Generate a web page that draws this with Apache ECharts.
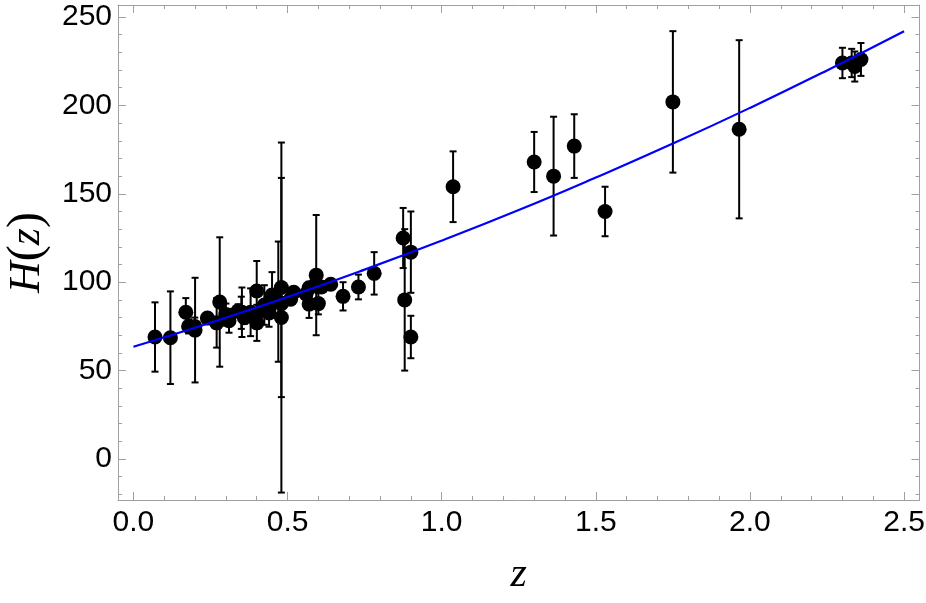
<!DOCTYPE html>
<html>
<head>
<meta charset="utf-8">
<script src="https://cdn.jsdelivr.net/npm/echarts@6/dist/echarts.min.js"></script>
<style>html,body{margin:0;padding:0;background:#fff;}#c{width:926px;height:603px;}</style>
</head>
<body>
<div id="c"></div>
<script>
// Observed H(z) data: redshift, value, 1-sigma error
var zVals = [0.07,0.12,0.17,0.179,0.199,0.2,0.24,0.27,0.28,0.30,0.31,0.34,0.35,0.352,0.36,0.38,0.3802,0.4,0.40,0.4004,0.4247,0.43,0.44,0.44,0.4497,0.47,0.48,0.48,0.48,0.51,0.52,0.56,0.57,0.57,0.59,0.593,0.60,0.61,0.64,0.68,0.73,0.781,0.875,0.88,0.9,0.9,1.037,1.3,1.363,1.43,1.53,1.75,1.965,2.3,2.33,2.34,2.36];
var hVals = [69,68.6,83,75,75,72.9,79.69,77,88.8,81.7,78.17,83.8,82.7,83,79.93,81.5,83,95,82.04,77,87.1,86.45,82.6,84.81,92.8,89,80,97,87.79,90.4,94.35,93.34,87.6,96.8,98.48,104,87.9,97.3,98.82,92,97.3,105,125,90,117,69,154,168,160,177,140,202,186.5,224,224,222,226];
var errVals = [19.6,26.2,8,4,5,29.6,2.99,14,36.6,6.22,6.74,3.66,9.1,14,3.39,1.9,13.5,17,2.03,10.2,11.2,3.97,7.8,1.83,12.9,34,99,62,2.03,1.9,2.64,2.3,7.8,3.4,3.18,34,6.1,2.1,2.98,8,7,12,17,40,23,12,20,17,33.6,18,14,40,50.4,8.6,8,8.5,9.3];

// Best-fit curve, values
var fitZ = [0,0.25,0.5,0.75,1.0,1.25,1.5,1.75,2.0,2.25,2.5];
var fitH = [63.5,77.1,91.6,107.1,123.5,140.8,159.2,178.4,198.6,219.8,241.9];

// Tick values
var xMajor = [0,0.5,1.0,1.5,2.0,2.5];
var xMinor = [0.1,0.2,0.3,0.4,0.6,0.7,0.8,0.9,1.1,1.2,1.3,1.4,1.6,1.7,1.8,1.9,2.1,2.2,2.3,2.4];
var yMajor = [0,50,100,150,200,250];
var yMinor = [-20,-10,10,20,30,40,60,70,80,90,110,120,130,140,160,170,180,190,210,220,230,240];

var pts = zVals.map(function(z,i){return [z,hVals[i]];});
var bars = zVals.map(function(z,i){return [z,hVals[i]-errVals[i],hVals[i]+errVals[i]];});
var fit = fitZ.map(function(z,i){return [z,fitH[i]];});

var X_MIN=-0.05, X_MAX=2.55, Y_MIN=-23.2, Y_MAX=256.8;
var frameColor='#a0a0a0';
var labelFont={fontFamily:'Liberation Sans, Arial, sans-serif',fontSize:30,color:'#000'};

function xAx(pos, vals, len, showLine, showLabel){
  return {type:'value',position:pos,min:X_MIN,max:X_MAX,
    axisLine:{show:showLine,onZero:false,lineStyle:{color:frameColor,width:1}},
    axisTick:{show:true,inside:true,length:len,customValues:vals,lineStyle:{color:frameColor,width:1}},
    axisLabel:showLabel?Object.assign({show:true,margin:8,customValues:vals,formatter:function(v){return v.toFixed(1);}},labelFont):{show:false},
    splitLine:{show:false}};
}
function yAx(pos, vals, len, showLine, showLabel){
  return {type:'value',position:pos,min:Y_MIN,max:Y_MAX,
    axisLine:{show:showLine,onZero:false,lineStyle:{color:frameColor,width:1}},
    axisTick:{show:true,inside:true,length:len,customValues:vals,lineStyle:{color:frameColor,width:1}},
    axisLabel:showLabel?Object.assign({show:true,margin:6,customValues:vals,formatter:function(v){return String(Math.round(v));}},labelFont):{show:false},
    splitLine:{show:false}};
}

var xa0 = xAx('bottom',xMajor,8,true,true);
xa0.name='z'; xa0.nameLocation='middle'; xa0.nameGap=54;
xa0.nameTextStyle={fontFamily:'Liberation Serif, DejaVu Serif, serif',fontStyle:'italic',fontSize:42,color:'#000'};
var ya0 = yAx('left',yMajor,8,true,true);
ya0.name='{i|H}{p|(}{i|z}{p|)}'; ya0.nameLocation='middle'; ya0.nameGap=66; ya0.nameRotate=90;
ya0.nameTextStyle={fontFamily:'Liberation Serif, DejaVu Serif, serif',fontSize:44,color:'#000',
  rich:{i:{fontFamily:'Liberation Serif, DejaVu Serif, serif',fontStyle:'italic',fontSize:44,color:'#000'},
        p:{fontFamily:'Liberation Serif, DejaVu Serif, serif',fontSize:48,color:'#000'}}};

var chart = echarts.init(document.getElementById('c'),null,{renderer:'canvas'});
chart.setOption({
  animation:false,
  backgroundColor:'#fff',
  grid:{left:118,right:6.5,top:5,bottom:103,containLabel:false,outerBoundsMode:'none'},
  xAxis:[xa0, xAx('bottom',xMinor,4,false,false), xAx('top',xMajor,8,true,false), xAx('top',xMinor,4,false,false)],
  yAxis:[ya0, yAx('left',yMinor,4,false,false), yAx('right',yMajor,8,true,false), yAx('right',yMinor,4,false,false)],
  series:[
    {type:'custom',xAxisIndex:0,yAxisIndex:0,data:bars,encode:{x:0,y:[1,2]},z:2,
      renderItem:function(params,api){
        var x=api.value(0), lo=api.value(1), hi=api.value(2);
        var a=api.coord([x,lo]), b=api.coord([x,hi]);
        var w=3.5, st={stroke:'#000',lineWidth:2};
        return {type:'group',children:[
          {type:'line',shape:{x1:a[0],y1:a[1],x2:b[0],y2:b[1]},style:st},
          {type:'line',shape:{x1:a[0]-w,y1:a[1],x2:a[0]+w,y2:a[1]},style:st},
          {type:'line',shape:{x1:b[0]-w,y1:b[1],x2:b[0]+w,y2:b[1]},style:st}
        ]};
      }},
    {type:'scatter',xAxisIndex:0,yAxisIndex:0,data:pts,symbol:'circle',symbolSize:15,z:3,
      itemStyle:{color:'#000',opacity:1}},
    {type:'line',xAxisIndex:0,yAxisIndex:0,data:fit,smooth:true,showSymbol:false,z:4,
      lineStyle:{color:'#0000ff',width:2.2}}
  ]
});
</script>
</body>
</html>
